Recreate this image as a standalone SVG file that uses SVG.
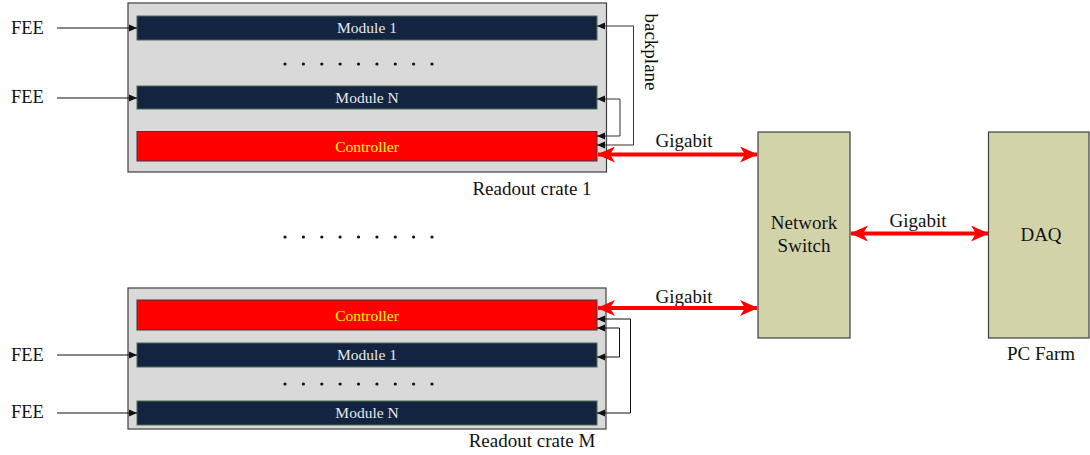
<svg xmlns="http://www.w3.org/2000/svg" width="1090" height="455" viewBox="0 0 1090 455" font-family="'Liberation Serif', 'Times New Roman', 'DejaVu Serif', serif">
<defs>
<style>
text{font-family:'Liberation Serif','Times New Roman','DejaVu Serif',serif;fill:#111}
.lbl{font-size:19px}
.fee{font-size:18.5px}
.mod{fill:#12243f;stroke:#4d6b55;stroke-width:1}
.mt{font-size:15.5px;fill:#e8e8e8;text-anchor:middle}
.ctl{fill:#ff0000;stroke:#3a3a3a;stroke-width:1}
.ct{font-size:15.5px;fill:#ffff00;text-anchor:middle}
.crate{fill:#d9d9d9;stroke:#404040;stroke-width:1.2}
.box{fill:#d3d3aa;stroke:#404040;stroke-width:1.2}
.thin{fill:none;stroke:#111;stroke-width:1}
.bp{fill:none;stroke:#333;stroke-width:1}
.red{fill:none;stroke:#ff0000;stroke-width:4}
.dot{fill:#111}
</style>
<marker id="ah" viewBox="0 0 8 8" refX="8" refY="4" markerWidth="8" markerHeight="8" markerUnits="userSpaceOnUse" orient="auto">
<path d="M0,0.5 L8,4 L0,7.5 Z" fill="#111"/>
</marker>
<marker id="ahs" viewBox="0 0 8 8" refX="8" refY="4" markerWidth="8" markerHeight="8" markerUnits="userSpaceOnUse" orient="auto-start-reverse">
<path d="M0,0.5 L8,4 L0,7.5 Z" fill="#111"/>
</marker>
<marker id="rh" viewBox="0 0 18 16" refX="17" refY="8" markerWidth="18" markerHeight="16" markerUnits="userSpaceOnUse" orient="auto-start-reverse">
<path d="M0,0 L18,8 L0,16 L5,8 Z" fill="#ff0000"/>
</marker>
</defs>

<g id="crate1">
<rect class="crate" x="128" y="3" width="478.5" height="169"/>
<g id="c1-module1"><rect class="mod" x="137" y="16" width="460" height="24"/><text class="mt" x="367" y="33">Module 1</text></g>
<g id="c1-dots">
<circle class="dot" cx="285" cy="64" r="1.6"/><circle class="dot" cx="303.4" cy="64" r="1.6"/><circle class="dot" cx="321.8" cy="64" r="1.6"/><circle class="dot" cx="340.1" cy="64" r="1.6"/><circle class="dot" cx="358.5" cy="64" r="1.6"/><circle class="dot" cx="376.9" cy="64" r="1.6"/><circle class="dot" cx="395.3" cy="64" r="1.6"/><circle class="dot" cx="413.6" cy="64" r="1.6"/><circle class="dot" cx="432" cy="64" r="1.6"/>
</g>
<g id="c1-moduleN"><rect class="mod" x="137" y="86" width="460" height="23"/><text class="mt" x="367" y="103">Module N</text></g>
<g id="c1-controller"><rect class="ctl" x="137" y="131.5" width="460" height="29.5"/><text class="ct" x="367" y="151.5">Controller</text></g>
<text class="lbl" x="532" y="195" text-anchor="middle">Readout crate 1</text>
</g>

<g id="middle-dots">
<circle class="dot" cx="285" cy="237" r="1.6"/><circle class="dot" cx="303.4" cy="237" r="1.6"/><circle class="dot" cx="321.8" cy="237" r="1.6"/><circle class="dot" cx="340.1" cy="237" r="1.6"/><circle class="dot" cx="358.5" cy="237" r="1.6"/><circle class="dot" cx="376.9" cy="237" r="1.6"/><circle class="dot" cx="395.3" cy="237" r="1.6"/><circle class="dot" cx="413.6" cy="237" r="1.6"/><circle class="dot" cx="432" cy="237" r="1.6"/>
</g>

<g id="crateM">
<rect class="crate" x="128" y="288" width="478" height="141"/>
<g id="cM-controller"><rect class="ctl" x="137" y="300" width="460" height="30"/><text class="ct" x="367" y="320.5">Controller</text></g>
<g id="cM-module1"><rect class="mod" x="137" y="343" width="460" height="24"/><text class="mt" x="367" y="360">Module 1</text></g>
<g id="cM-dots">
<circle class="dot" cx="285" cy="384" r="1.6"/><circle class="dot" cx="303.4" cy="384" r="1.6"/><circle class="dot" cx="321.8" cy="384" r="1.6"/><circle class="dot" cx="340.1" cy="384" r="1.6"/><circle class="dot" cx="358.5" cy="384" r="1.6"/><circle class="dot" cx="376.9" cy="384" r="1.6"/><circle class="dot" cx="395.3" cy="384" r="1.6"/><circle class="dot" cx="413.6" cy="384" r="1.6"/><circle class="dot" cx="432" cy="384" r="1.6"/>
</g>
<g id="cM-moduleN"><rect class="mod" x="137" y="401" width="460" height="24"/><text class="mt" x="367" y="418">Module N</text></g>
<text class="lbl" x="532" y="447" text-anchor="middle">Readout crate M</text>
</g>

<g id="switch">
<rect class="box" x="758" y="132" width="92" height="206"/>
<text class="lbl" x="804" y="229" text-anchor="middle">Network</text>
<text class="lbl" x="804" y="252" text-anchor="middle">Switch</text>
</g>

<g id="daq">
<rect class="box" x="988.5" y="132" width="100.5" height="206"/>
<text class="lbl" x="1041" y="241" text-anchor="middle">DAQ</text>
<text class="lbl" x="1041" y="360" text-anchor="middle">PC Farm</text>
</g>

<g id="labels">
<text class="fee" x="11" y="34">FEE</text>
<text class="fee" x="11" y="103">FEE</text>
<text class="fee" x="11" y="361">FEE</text>
<text class="fee" x="11" y="418">FEE</text>
<text class="lbl" transform="translate(645,52) rotate(90)" text-anchor="middle">backplane</text>
<text class="lbl" x="684" y="147" text-anchor="middle">Gigabit</text>
<text class="lbl" x="918" y="227" text-anchor="middle">Gigabit</text>
<text class="lbl" x="684" y="303" text-anchor="middle">Gigabit</text>
</g>

<g id="connectors">
<line class="thin" x1="57" y1="28" x2="137" y2="28" marker-end="url(#ah)"/>
<line class="thin" x1="57" y1="98" x2="137" y2="98" marker-end="url(#ah)"/>
<line class="thin" x1="57" y1="355" x2="137" y2="355" marker-end="url(#ah)"/>
<line class="thin" x1="57" y1="413" x2="137" y2="413" marker-end="url(#ah)"/>

<path class="bp" d="M597,26 H633.5 V145 H597" marker-start="url(#ahs)" marker-end="url(#ah)"/>
<path class="bp" d="M597,99 H620 V136 H597" marker-start="url(#ahs)" marker-end="url(#ah)"/>
<path class="thin" d="M597,319 H630.5 V413 H597" marker-start="url(#ahs)" marker-end="url(#ah)"/>
<path class="thin" d="M597,328 H619.5 V357 H597" marker-start="url(#ahs)" marker-end="url(#ah)"/>

<line class="red" x1="598" y1="154.5" x2="757" y2="154.5" marker-start="url(#rh)" marker-end="url(#rh)"/>
<line class="red" x1="598" y1="308" x2="757" y2="308" marker-start="url(#rh)" marker-end="url(#rh)"/>
<line class="red" x1="851" y1="233.5" x2="988" y2="233.5" marker-start="url(#rh)" marker-end="url(#rh)"/>
</g>
</svg>
